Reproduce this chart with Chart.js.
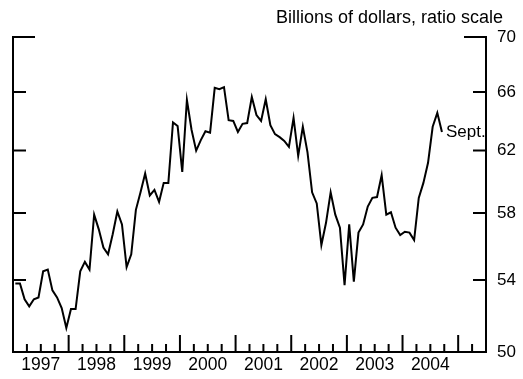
<!DOCTYPE html>
<html>
<head>
<meta charset="utf-8">
<script src="https://cdn.jsdelivr.net/npm/chart.js@4/dist/chart.umd.min.js"></script>
<style>
  body { margin: 0; background: #fff; }
  canvas { display: block; }
</style>
</head>
<body>
<canvas id="chart" width="523" height="379"></canvas>
<script>
// monthly, Jan 1997 - Sept 2004, billions of dollars
const years = ["1997", "1998", "1999", "2000", "2001", "2002", "2003", "2004"];
const yTicks = [50, 54, 58, 62, 66, 70];
const values = [
    53.8, 53.8, 52.9, 52.5, 52.9, 53.0, 54.5, 54.6, 53.4, 53.0, 52.4, 51.3,
    52.35, 52.35, 54.5, 55.05, 54.6, 57.9, 57.0, 55.9, 55.5, 56.7, 58.1, 57.3,
    54.75, 55.5, 58.2, 59.3, 60.5, 59.1, 59.45, 58.7, 59.9, 59.9, 63.9, 63.65,
    60.6, 65.45, 63.4, 62.0, 62.7, 63.3, 63.2, 66.3, 66.2, 66.35, 64.05, 64.0,
    63.25, 63.8, 63.85, 65.65, 64.4, 64.0, 65.5, 63.7, 63.1, 62.9, 62.65, 62.25,
    64.2, 61.65, 63.6, 61.9, 59.3, 58.6, 56.05, 57.4, 59.3, 57.9, 57.1, 53.7,
    57.3, 53.9, 56.8, 57.3, 58.4, 58.95, 59.0, 60.4, 57.9, 58.05, 57.1, 56.65,
    56.85, 56.8, 56.35, 58.95, 59.9, 61.2, 63.6, 64.55, 63.25
];
const lastLabel = "Sept.";
const unitsLabel = "Billions of dollars, ratio scale";

const FONT = "Liberation Sans, Arial, Helvetica, sans-serif";
const monthsShown = 102; // axis runs Jan 1997 to mid 2005

const points = values.map((v, i) => ({ x: i + 0.5, y: v }));

const innerTicks = {
    id: "innerTicks",
    afterDraw(chart) {
        const ctx = chart.ctx;
        const a = chart.chartArea;
        const xs = chart.scales.x;
        const ys = chart.scales.y;
        ctx.save();
        ctx.strokeStyle = "#000";
        ctx.lineWidth = 2;
        ctx.beginPath();
        yTicks.forEach(v => {
            if (v === 50) return;
            const py = ys.getPixelForValue(v);
            const len = v === 70 ? 22 : 13;
            ctx.moveTo(a.left, py);
            ctx.lineTo(a.left + len, py);
            ctx.moveTo(a.right - len, py);
            ctx.lineTo(a.right, py);
        });
        for (let m = 3; m < monthsShown; m += 3) {
            const px = xs.getPixelForValue(m);
            const len = m % 12 === 0 ? 17 : 8;
            ctx.moveTo(px, a.bottom);
            ctx.lineTo(px, a.bottom - len);
        }
        ctx.stroke();

        ctx.fillStyle = "#000";
        ctx.font = "18px " + FONT;
        ctx.textAlign = "right";
        ctx.textBaseline = "alphabetic";
        ctx.fillText(unitsLabel, 503, 23);

        const meta = chart.getDatasetMeta(0);
        const last = meta.data[meta.data.length - 1];
        ctx.font = "17px " + FONT;
        ctx.textAlign = "left";
        ctx.textBaseline = "middle";
        ctx.fillText(lastLabel, last.x + 4, last.y);
        ctx.restore();
    }
};

new Chart(document.getElementById("chart"), {
    type: "line",
    data: {
        datasets: [{
            data: points,
            borderColor: "#000",
            borderWidth: 2,
            pointRadius: 0,
            tension: 0,
            fill: false,
            yAxisID: "y"
        }]
    },
    options: {
        responsive: false,
        animation: false,
        layout: { padding: { top: 37, left: 0, right: 0, bottom: 0 } },
        plugins: {
            legend: { display: false },
            tooltip: { enabled: false }
        },
        scales: {
            x: {
                type: "linear",
                min: 0,
                max: monthsShown,
                grid: { display: false, drawTicks: false },
                border: { display: true, color: "#000", width: 2 },
                afterBuildTicks: scale => {
                    scale.ticks = years.map((y, k) => ({ value: 12 * k + 6 }));
                },
                afterFit: scale => { scale.height = 27; },
                ticks: {
                    autoSkip: false,
                    maxRotation: 0,
                    padding: 3,
                    color: "#000",
                    font: { family: FONT, size: 17.5 },
                    callback: (v, i) => years[i]
                }
            },
            y: {
                type: "logarithmic",
                position: "right",
                min: 50,
                max: 70,
                grid: { display: false, drawTicks: false },
                border: { display: true, color: "#000", width: 2 },
                afterBuildTicks: scale => {
                    scale.ticks = yTicks.map(v => ({ value: v }));
                },
                afterFit: scale => { scale.width = 37; },
                ticks: {
                    padding: 11,
                    color: "#000",
                    font: { family: FONT, size: 17 },
                    callback: v => String(v)
                }
            },
            yL: {
                type: "logarithmic",
                position: "left",
                min: 50,
                max: 70,
                grid: { display: false, drawTicks: false },
                border: { display: true, color: "#000", width: 2 },
                afterFit: scale => { scale.width = 13; },
                ticks: { display: false }
            }
        }
    },
    plugins: [innerTicks]
});
</script>
</body>
</html>
